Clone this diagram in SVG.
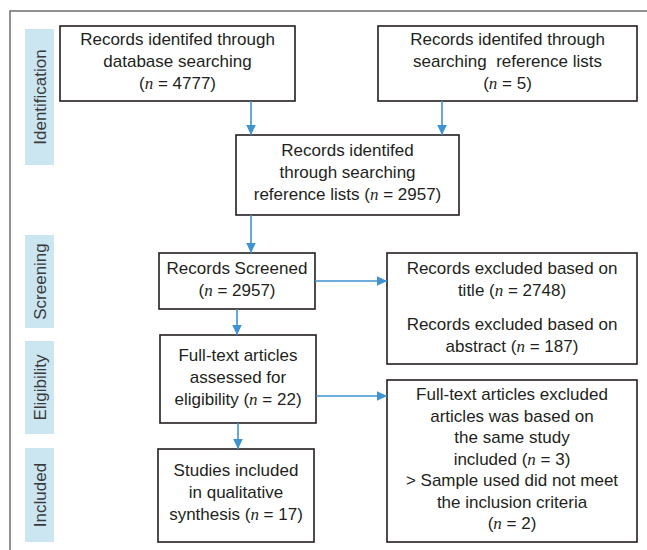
<svg xmlns="http://www.w3.org/2000/svg" width="647" height="550" viewBox="0 0 647 550">
  <defs>
    <style>
      .frame { fill: none; stroke: #6d6d6d; stroke-width: 1.5; }
      .box { fill: #ffffff; stroke: #231f20; stroke-width: 1.6; }
      .lab { fill: #cbe5f1; }
      .t { font-family: "Liberation Sans", Arial, sans-serif; font-size: 17px; fill: #231f20; text-anchor: middle; }
      .lt { font-family: "Liberation Sans", Arial, sans-serif; font-size: 17px; fill: #3a3a3a; text-anchor: middle; }
      .n { font-family: "Liberation Serif", "Times New Roman", serif; font-style: italic; }
      .c { fill: none; stroke: #3f93d1; stroke-width: 1.6; }
    </style>
    <marker id="ah" markerUnits="userSpaceOnUse" markerWidth="12" markerHeight="12" viewBox="0 0 12 12" refX="11" refY="6" orient="auto">
      <path d="M1,1.2 L11,6 L1,10.8 Z" fill="#3f93d1"/>
    </marker>
  </defs>

  <path class="frame" d="M10,550 V11 H647"/>

  <g id="label-identification">
    <rect class="lab" x="25" y="29" width="29" height="136"/>
    <text class="lt" transform="translate(45.5,97) rotate(-90)">Identification</text>
  </g>
  <g id="label-screening">
    <rect class="lab" x="25" y="235" width="29" height="93"/>
    <text class="lt" transform="translate(45.5,281.5) rotate(-90)">Screening</text>
  </g>
  <g id="label-eligibility">
    <rect class="lab" x="25" y="341" width="29" height="93"/>
    <text class="lt" transform="translate(45.5,387.5) rotate(-90)">Eligibility</text>
  </g>
  <g id="label-included">
    <rect class="lab" x="25" y="448" width="29" height="94"/>
    <text class="lt" transform="translate(45.5,495) rotate(-90)">Included</text>
  </g>

  <g id="db-search">
    <rect class="box" x="60" y="26" width="235" height="75"/>
    <text class="t" x="177.5" y="45">Records identifed through</text>
    <text class="t" x="177.5" y="67">database searching</text>
    <text class="t" x="177.5" y="89">(<tspan class="n">n</tspan> = 4777)</text>
  </g>
  <g id="ref-lists">
    <rect class="box" x="378" y="26" width="259" height="75"/>
    <text class="t" x="507.5" y="45">Records identifed through</text>
    <text class="t" x="507.5" y="67" xml:space="preserve">searching  reference lists</text>
    <text class="t" x="507.5" y="89">(<tspan class="n">n</tspan> = 5)</text>
  </g>
  <g id="combined">
    <rect class="box" x="236" y="135" width="223" height="80"/>
    <text class="t" x="347.5" y="156">Records identifed</text>
    <text class="t" x="347.5" y="178">through searching</text>
    <text class="t" x="347.5" y="200">reference lists (<tspan class="n">n</tspan> = 2957)</text>
  </g>
  <g id="screened">
    <rect class="box" x="159" y="253" width="156" height="56"/>
    <text class="t" x="237" y="274">Records Screened</text>
    <text class="t" x="237" y="296">(<tspan class="n">n</tspan> = 2957)</text>
  </g>
  <g id="excluded-screen">
    <rect class="box" x="387" y="253" width="250" height="111"/>
    <text class="t" x="512" y="274">Records excluded based on</text>
    <text class="t" x="512" y="296">title (<tspan class="n">n</tspan> = 2748)</text>
    <text class="t" x="512" y="330">Records excluded based on</text>
    <text class="t" x="512" y="352">abstract (<tspan class="n">n</tspan> = 187)</text>
  </g>
  <g id="eligibility-box">
    <rect class="box" x="160" y="335" width="156" height="88"/>
    <text class="t" x="238" y="361">Full-text articles</text>
    <text class="t" x="238" y="383">assessed for</text>
    <text class="t" x="238" y="405">eligibility (<tspan class="n">n</tspan> = 22)</text>
  </g>
  <g id="excluded-fulltext">
    <rect class="box" x="387" y="380" width="250" height="162"/>
    <text class="t" x="512" y="400">Full-text articles excluded</text>
    <text class="t" x="512" y="421.5">articles was based on</text>
    <text class="t" x="512" y="443">the same study</text>
    <text class="t" x="512" y="464.5">included (<tspan class="n">n</tspan> = 3)</text>
    <text class="t" x="512" y="486">&gt; Sample used did not meet</text>
    <text class="t" x="512" y="507.5">the inclusion criteria</text>
    <text class="t" x="512" y="529">(<tspan class="n">n</tspan> = 2)</text>
  </g>
  <g id="included-box">
    <rect class="box" x="158" y="449" width="156" height="93"/>
    <text class="t" x="236" y="476">Studies included</text>
    <text class="t" x="236" y="498">in qualitative</text>
    <text class="t" x="236" y="520">synthesis (<tspan class="n">n</tspan> = 17)</text>
  </g>

  <g id="connectors">
    <line class="c" x1="251" y1="101" x2="251" y2="135" marker-end="url(#ah)"/>
    <line class="c" x1="442" y1="101" x2="442" y2="135" marker-end="url(#ah)"/>
    <line class="c" x1="251" y1="215" x2="251" y2="253" marker-end="url(#ah)"/>
    <line class="c" x1="315" y1="281" x2="387" y2="281" marker-end="url(#ah)"/>
    <line class="c" x1="237" y1="309" x2="237" y2="335" marker-end="url(#ah)"/>
    <line class="c" x1="316" y1="396" x2="387" y2="396" marker-end="url(#ah)"/>
    <line class="c" x1="238" y1="423" x2="238" y2="449" marker-end="url(#ah)"/>
  </g>
</svg>
